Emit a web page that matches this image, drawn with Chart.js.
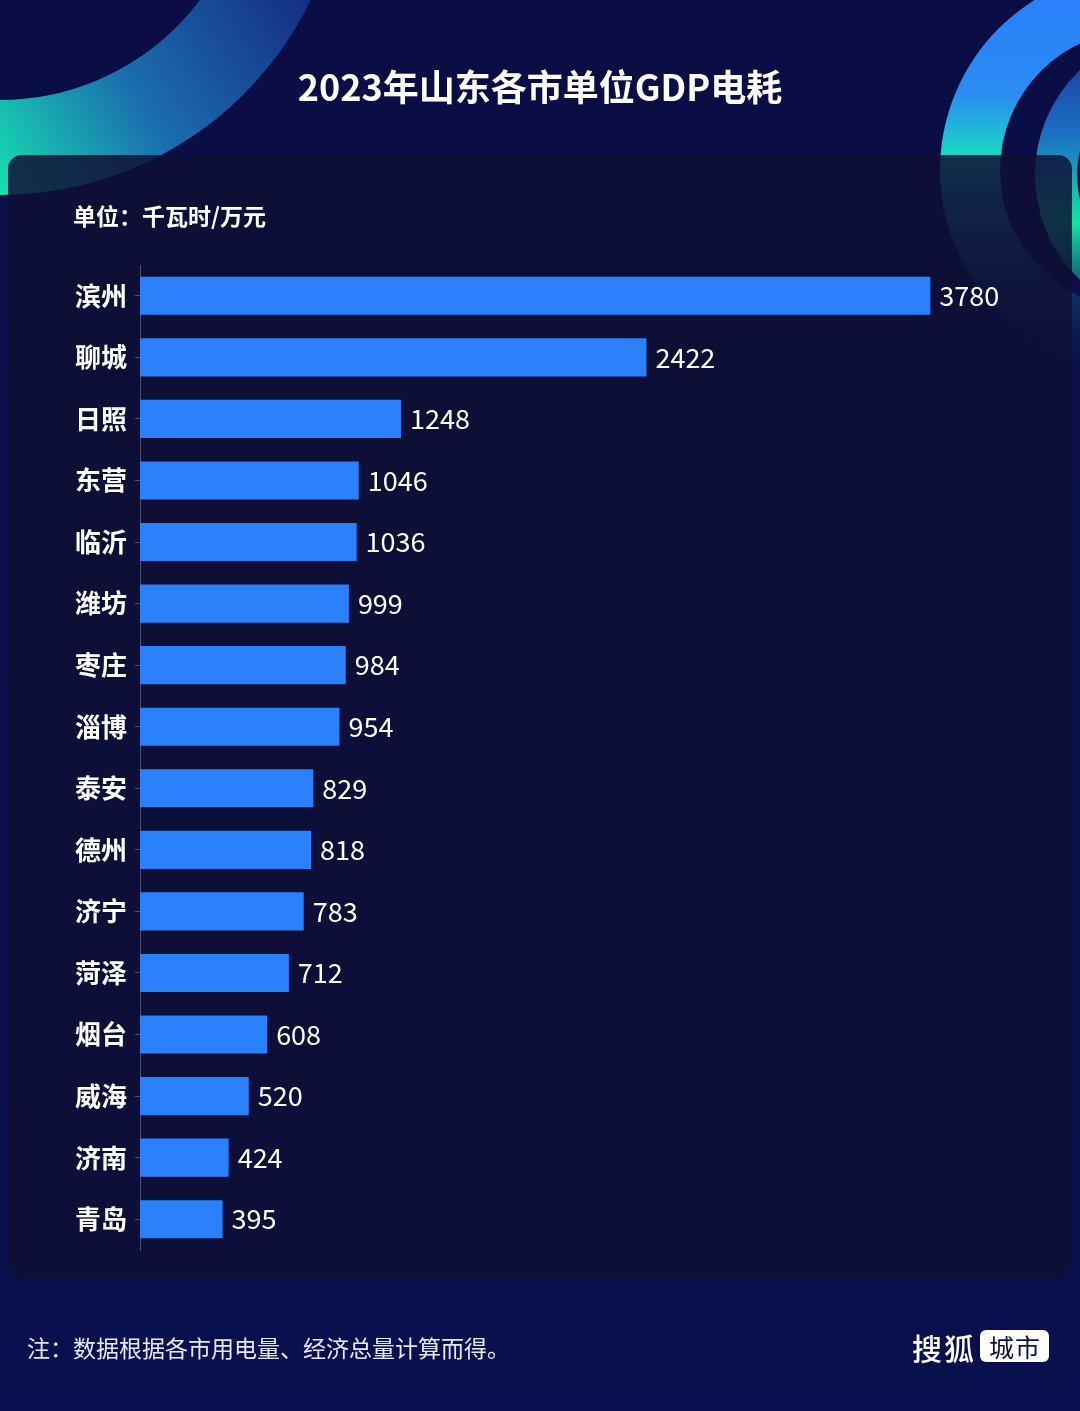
<!DOCTYPE html>
<html>
<head>
<meta charset="utf-8">
<script src="https://cdn.jsdelivr.net/npm/chart.js@4"></script>
<style>
  html, body { margin: 0; padding: 0; background: #0b0e47; }
  #wrap { position: relative; width: 1080px; height: 1411px; overflow: hidden; font-family: "Noto Sans CJK SC", "Noto Sans", sans-serif; }
  #chart { position: absolute; left: 0; top: 0; }
  .txt { position: absolute; color: #fff; white-space: nowrap; }
  #title { left: 0; width: 1080px; top: 59px; text-align: center; font-size: 36px; font-weight: bold; }
  #unit { left: 73px; top: 198px; font-size: 23px; font-weight: bold; }
  #note { left: 27px; top: 1330px; font-size: 23px; color: #e6e8f2; }
  #logo { left: 912px; top: 1325px; font-size: 30px; font-weight: 500; letter-spacing: 2px; }
  #logo span { display: inline-block; margin-left: 4px; background: #fff; color: #0c0f45; font-size: 25px; font-weight: normal; letter-spacing: 1px; border-radius: 6px; padding: 0 8px 0 9px; line-height: 32px; vertical-align: 3px; }
</style>
</head>
<body>
<div id="wrap">
  <canvas id="chart" width="1080" height="1411"></canvas>
  <div class="txt" id="title">2023年山东各市单位GDP电耗</div>
  <div class="txt" id="unit">单位：千瓦时/万元</div>
  <div class="txt" id="note">注：数据根据各市用电量、经济总量计算而得。</div>
  <div class="txt" id="logo">搜狐<span>城市</span></div>
</div>
<script>
var cities = ['滨州', '聊城', '日照', '东营', '临沂', '潍坊', '枣庄', '淄博', '泰安', '德州', '济宁', '菏泽', '烟台', '威海', '济南', '青岛'];
var power = [3780, 2422, 1248, 1046, 1036, 999, 984, 954, 829, 818, 783, 712, 608, 520, 424, 395];

// background, rings and the panel behind the bars
var backdrop = {
    id: 'backdrop',
    beforeDraw: function(chart) {
        var c = chart.ctx;
        c.save();
        var bg = c.createLinearGradient(0, 0, 0, 1411);
        bg.addColorStop(0, '#0b0d45');
        bg.addColorStop(1, '#0a104f');
        c.fillStyle = bg;
        c.fillRect(0, 0, 1080, 1411);

        // top-left ring
        var g1 = c.createLinearGradient(0, 200, 320, 0);
        g1.addColorStop(0, '#17e0b2');
        g1.addColorStop(0.45, '#1b6eae');
        g1.addColorStop(1, '#162a80');
        c.fillStyle = g1;
        c.beginPath();
        c.arc(0, -150, 345, 0, Math.PI * 2);
        c.arc(0, -150, 250, 0, Math.PI * 2, true);
        c.fill();

        // top-right outer ring
        var g2 = c.createLinearGradient(0, -30, 0, 380);
        g2.addColorStop(0, '#2b7cff');
        g2.addColorStop(0.3, '#2a8cf2');
        g2.addColorStop(0.45, '#19d6c2');
        g2.addColorStop(0.65, 'rgba(25,160,170,0.6)');
        g2.addColorStop(1, 'rgba(20,40,120,0)');
        c.fillStyle = g2;
        c.beginPath();
        c.arc(1140, 170, 200, 0, Math.PI * 2);
        c.arc(1140, 170, 140, 0, Math.PI * 2, true);
        c.fill();

        // top-right inner ring
        var g3 = c.createLinearGradient(0, 50, 0, 330);
        g3.addColorStop(0, '#1d3b9e');
        g3.addColorStop(0.3, '#1b6fc4');
        g3.addColorStop(0.62, '#10e6a2');
        g3.addColorStop(1, 'rgba(16,120,150,0.2)');
        c.fillStyle = g3;
        c.beginPath();
        c.arc(1180, 175, 145, 0, Math.PI * 2);
        c.arc(1180, 175, 103, 0, Math.PI * 2, true);
        c.fill();

        // panel
        c.fillStyle = 'rgba(16,16,52,0.84)';
        c.beginPath();
        c.roundRect(8, 155, 1064, 1124, 14);
        c.fill();
        c.restore();
    }
};

// value labels after each bar
var valueLabels = {
    id: 'valueLabels',
    afterDatasetsDraw: function(chart) {
        var c = chart.ctx;
        var meta = chart.getDatasetMeta(0);
        c.save();
        c.fillStyle = '#ffffff';
        c.font = '27px "Noto Sans CJK SC", "Noto Sans", sans-serif';
        c.textAlign = 'left';
        c.textBaseline = 'middle';
        meta.data.forEach(function(bar, i) {
            c.fillText(power[i], bar.x + 9, bar.y);
        });
        c.restore();
    }
};

var ctx = document.getElementById('chart').getContext('2d');
var chart = new Chart(ctx, {
    type: 'bar',
    data: {
        labels: cities,
        datasets: [{
            data: power,
            backgroundColor: '#2b80fb',
            borderWidth: 0,
            barPercentage: 0.62,
            categoryPercentage: 1
        }]
    },
    options: {
        indexAxis: 'y',
        responsive: false,
        animation: false,
        layout: { padding: { left: 0, right: 20, top: 265, bottom: 161 } },
        plugins: {
            legend: { display: false },
            tooltip: { enabled: false }
        },
        scales: {
            x: {
                display: false,
                min: 0,
                max: 4400
            },
            y: {
                afterFit: function(scale) { scale.width = 140; },
                border: { display: true, color: '#4d4f70', width: 1 },
                grid: { offset: false, drawOnChartArea: false, drawTicks: true, tickLength: 5, color: '#4d4f70' },
                ticks: {
                    color: '#ffffff',
                    padding: 8,
                    font: { family: '"Noto Sans CJK SC", sans-serif', size: 26, weight: 'bold' }
                }
            }
        }
    },
    plugins: [backdrop, valueLabels]
});
</script>
</body>
</html>
